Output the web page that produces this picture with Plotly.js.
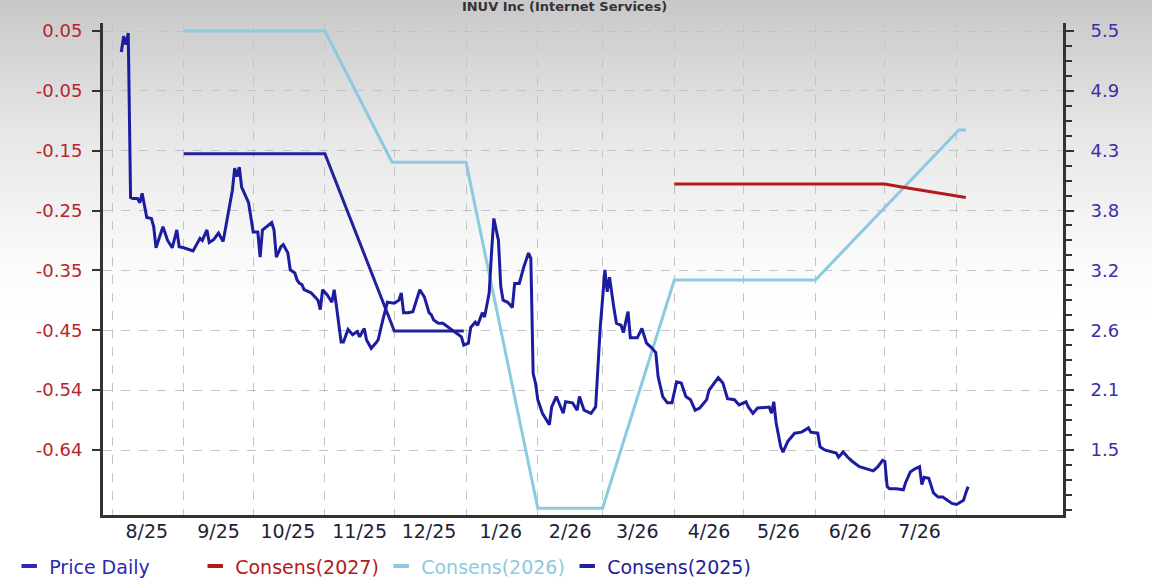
<!DOCTYPE html>
<html><head><meta charset="utf-8">
<script src="https://cdn.plot.ly/plotly-3.0.1.min.js"></script>
<style>
html,body{margin:0;padding:0;}
body{background:linear-gradient(to bottom,#c8c8c8 0px,#e6e6e6 130px,#fafafa 260px,#ffffff 320px);}
#chart{width:1152px;height:588px;}
</style></head><body><div id="chart"></div>
<script>
const priceDates = ["2025-08-05","2025-08-06","2025-08-07","2025-08-08","2025-08-09","2025-08-10","2025-08-12","2025-08-13","2025-08-14","2025-08-15","2025-08-16","2025-08-18","2025-08-19","2025-08-20","2025-08-23","2025-08-25","2025-08-27","2025-08-29","2025-08-30","2025-09-01","2025-09-05","2025-09-08","2025-09-09","2025-09-11","2025-09-12","2025-09-14","2025-09-16","2025-09-18","2025-09-22","2025-09-23","2025-09-24","2025-09-25","2025-09-26","2025-09-29","2025-10-01","2025-10-03","2025-10-04","2025-10-05","2025-10-09","2025-10-10","2025-10-11","2025-10-13","2025-10-14","2025-10-16","2025-10-17","2025-10-19","2025-10-20","2025-10-21","2025-10-22","2025-10-23","2025-10-26","2025-10-29","2025-10-30","2025-10-31","2025-11-02","2025-11-04","2025-11-05","2025-11-06","2025-11-08","2025-11-09","2025-11-11","2025-11-13","2025-11-15","2025-11-16","2025-11-18","2025-11-19","2025-11-21","2025-11-23","2025-11-24","2025-11-26","2025-11-28","2025-12-01","2025-12-03","2025-12-04","2025-12-05","2025-12-07","2025-12-09","2025-12-12","2025-12-14","2025-12-16","2025-12-17","2025-12-18","2025-12-20","2025-12-22","2025-12-25","2025-12-27","2025-12-30","2025-12-31","2026-01-02","2026-01-03","2026-01-05","2026-01-06","2026-01-08","2026-01-09","2026-01-11","2026-01-12","2026-01-13","2026-01-15","2026-01-16","2026-01-17","2026-01-19","2026-01-21","2026-01-22","2026-01-24","2026-01-26","2026-01-28","2026-01-29","2026-01-30","2026-01-31","2026-02-01","2026-02-03","2026-02-06","2026-02-07","2026-02-09","2026-02-12","2026-02-13","2026-02-16","2026-02-18","2026-02-19","2026-02-21","2026-02-24","2026-02-26","2026-02-27","2026-02-28","2026-03-02","2026-03-03","2026-03-04","2026-03-05","2026-03-06","2026-03-07","2026-03-09","2026-03-10","2026-03-12","2026-03-13","2026-03-16","2026-03-18","2026-03-20","2026-03-22","2026-03-24","2026-03-25","2026-03-27","2026-03-29","2026-03-31","2026-04-02","2026-04-04","2026-04-06","2026-04-08","2026-04-10","2026-04-12","2026-04-15","2026-04-16","2026-04-20","2026-04-22","2026-04-24","2026-04-27","2026-04-29","2026-05-02","2026-05-03","2026-05-05","2026-05-07","2026-05-10","2026-05-12","2026-05-13","2026-05-14","2026-05-15","2026-05-17","2026-05-18","2026-05-20","2026-05-23","2026-05-26","2026-05-29","2026-05-30","2026-06-02","2026-06-03","2026-06-05","2026-06-08","2026-06-10","2026-06-11","2026-06-13","2026-06-15","2026-06-17","2026-06-20","2026-06-24","2026-06-26","2026-06-28","2026-06-30","2026-07-01","2026-07-02","2026-07-03","2026-07-06","2026-07-09","2026-07-10","2026-07-12","2026-07-14","2026-07-16","2026-07-17","2026-07-18","2026-07-20","2026-07-22","2026-07-24","2026-07-26","2026-07-28","2026-07-30","2026-08-01","2026-08-04","2026-08-05","2026-08-06"];
const priceValues = [5.30,5.45,5.37,5.48,3.91,3.90,3.90,3.86,3.95,3.82,3.72,3.71,3.63,3.43,3.63,3.50,3.43,3.60,3.44,3.43,3.40,3.52,3.50,3.60,3.48,3.51,3.57,3.49,3.98,4.19,4.11,4.20,4.01,3.86,3.58,3.58,3.34,3.60,3.67,3.60,3.34,3.44,3.46,3.38,3.22,3.19,3.12,3.09,3.08,3.03,3.00,2.93,2.84,3.03,2.98,2.91,3.03,2.87,2.53,2.53,2.65,2.60,2.63,2.58,2.66,2.55,2.47,2.52,2.55,2.74,2.91,2.90,2.93,3.00,2.81,2.81,2.82,3.03,2.96,2.81,2.79,2.74,2.71,2.71,2.66,2.63,2.58,2.50,2.52,2.67,2.72,2.69,2.81,2.77,3.00,3.38,3.71,3.50,3.06,2.93,2.91,2.86,3.09,3.09,3.25,3.38,3.33,2.23,2.14,1.98,1.85,1.74,1.91,2.01,1.85,1.96,1.95,1.88,2.01,1.88,1.85,1.91,2.26,2.67,3.22,3.01,3.15,2.98,2.84,2.71,2.69,2.62,2.82,2.57,2.57,2.66,2.52,2.48,2.43,2.20,2.01,1.95,1.95,2.15,2.14,2.01,1.98,1.88,1.90,1.98,2.07,2.19,2.14,1.99,1.98,1.93,1.96,1.91,1.85,1.90,1.91,1.91,1.85,1.96,1.76,1.53,1.48,1.58,1.66,1.67,1.71,1.67,1.66,1.53,1.50,1.48,1.47,1.43,1.48,1.43,1.39,1.34,1.31,1.30,1.34,1.40,1.39,1.15,1.13,1.13,1.12,1.19,1.29,1.32,1.34,1.17,1.24,1.23,1.09,1.05,1.05,1.02,0.99,0.98,1.02,1.09,1.15];

const cons2027Dates = ["2026-04-01","2026-07-01","2026-07-07","2026-08-05"];
const cons2027Values = [-0.202,-0.202,-0.206,-0.224];
const cons2026Dates = ["2025-09-01","2025-11-01","2025-11-30","2026-01-01","2026-02-01","2026-03-01","2026-04-01","2026-06-01","2026-08-02","2026-08-05"];
const cons2026Values = [0.05,0.05,-0.166,-0.166,-0.736,-0.736,-0.36,-0.36,-0.113,-0.113];
const cons2025Dates = ["2025-09-01","2025-11-01","2025-12-01","2025-12-31"];
const cons2025Values = [-0.152,-0.152,-0.444,-0.444];

const monthStarts = ["2025-08-01","2025-09-01","2025-10-01","2025-11-01","2025-12-01","2026-01-01","2026-02-01","2026-03-01","2026-04-01","2026-05-01","2026-06-01","2026-07-01","2026-08-01"];
const monthMids = ["2025-08-16","2025-09-16","2025-10-16","2025-11-16","2025-12-16","2026-01-16","2026-02-15","2026-03-16","2026-04-16","2026-05-16","2026-06-16","2026-07-16"];
const monthLabels = ["8/25","9/25","10/25","11/25","12/25","1/26","2/26","3/26","4/26","5/26","6/26","7/26"];
const leftTickVals = [0.05,-0.04857,-0.14714,-0.24571,-0.34429,-0.44286,-0.54143,-0.64];
const leftTickText = ["0.05","-0.05","-0.15","-0.25","-0.35","-0.45","-0.54","-0.64"];
const rightTickVals = [5.5,4.92857,4.35714,3.78571,3.21429,2.64286,2.07143,1.5];
const rightTickText = ["5.5","4.9","4.3","3.8","3.2","2.6","2.1","1.5"];

const NAVY = "#1c1ca0", RED = "#b41a1a", LIGHT = "#8ccae0", NAVY2 = "#22229a";
const FONT = "DejaVu Sans";
const xRange = ["2025-07-28 02:00","2026-09-16"];

const traces = [
  {x: cons2025Dates, y: cons2025Values, xaxis:"x", yaxis:"y", mode:"lines", line:{color:NAVY2, width:3}, showlegend:false, name:"Consens(2025)"},
  {x: cons2026Dates, y: cons2026Values, xaxis:"x", yaxis:"y", mode:"lines", line:{color:LIGHT, width:3}, showlegend:false, name:"Consens(2026)"},
  {x: cons2027Dates, y: cons2027Values, xaxis:"x", yaxis:"y", mode:"lines", line:{color:RED, width:3}, showlegend:false, name:"Consens(2027)"},
  {x: priceDates, y: priceValues, xaxis:"x", yaxis:"y2", mode:"lines", line:{color:NAVY, width:3}, showlegend:false, name:"Price Daily"}
];
const legendItems = [
  {name:"Price Daily", color:"#2a2ab4"},
  {name:"Consens(2027)", color:RED},
  {name:"Consens(2026)", color:LIGHT},
  {name:"Consens(2025)", color:NAVY2}
];
legendItems.forEach(it => traces.push({
  x:[null], y:[null], xaxis:"x2", yaxis:"y", mode:"markers",
  marker:{symbol:"line-ew-open", size:11, color:it.color, line:{width:4, color:it.color}},
  name:'<span style="color:'+it.color+'">'+it.name+'</span>', showlegend:true
}));

const layout = {
  width:1152, height:588, autosize:false,
  margin:{l:103, r:89, t:23, b:73},
  paper_bgcolor:"rgba(0,0,0,0)", plot_bgcolor:"rgba(0,0,0,0)",
  font:{family:FONT, size:17, color:"#222"},
  title:{text:"INUV Inc (Internet Services)", font:{family:FONT, size:13, color:"#333", weight:"bold"},
         xref:"container", x:0.49, xanchor:"center", yref:"container", y:0.999, yanchor:"top", pad:{t:1}},
  showlegend:true,
  legend:{orientation:"h", xref:"container", yref:"container", x:0.008, xanchor:"left", y:0.037, yanchor:"middle",
          entrywidth:141, entrywidthmode:"pixels", font:{family:FONT, size:19}, bgcolor:"rgba(0,0,0,0)", itemwidth:30},
  xaxis:{type:"date", range:xRange, tickmode:"array", tickvals:monthStarts, showticklabels:false, ticks:"",
         showgrid:true, gridcolor:"#c4c4c4", griddash:"dash", gridwidth:1,
         showline:true, linecolor:"#333", linewidth:3, zeroline:false, fixedrange:true},
  xaxis2:{type:"date", range:xRange, overlaying:"x", anchor:"y", side:"bottom", tickmode:"array",
          tickvals:monthMids, ticktext:monthLabels, ticks:"", showgrid:false, showline:false, zeroline:false,
          tickfont:{family:FONT, size:19, color:"#1e1e38"}, ticklabelstandoff:3},
  yaxis:{range:[-0.747,0.0632], tickmode:"array", tickvals:leftTickVals, ticktext:leftTickText,
         ticks:"outside", ticklen:8, tickwidth:2, tickcolor:"#333",
         showgrid:true, gridcolor:"#c4c4c4", griddash:"dash", gridwidth:1,
         showline:true, linecolor:"#333", linewidth:3, zeroline:false,
         tickfont:{family:FONT, size:18, color:"#b5262e"}, ticklabelstandoff:6},
  yaxis2:{range:[0.879,5.576], overlaying:"y", side:"right", anchor:"x", tickmode:"array",
          tickvals:rightTickVals, ticktext:rightTickText,
          ticks:"outside", ticklen:8, tickwidth:2, tickcolor:"#333",
          minor:{tick0:1.5, dtick:4/28, ticks:"outside", ticklen:6, tickwidth:2, tickcolor:"#333", showgrid:false},
          showgrid:false, showline:true, linecolor:"#333", linewidth:3, zeroline:false,
          tickfont:{family:FONT, size:18, color:"#3b2fa8"}, ticklabelstandoff:13}
};
Plotly.newPlot("chart", traces, layout, {displayModeBar:false, staticPlot:true});
</script></body></html>
